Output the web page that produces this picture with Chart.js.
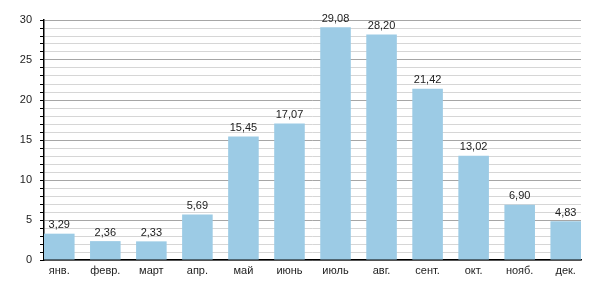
<!DOCTYPE html>
<html lang="ru">
  <head>
    <meta charset="UTF-8" />
    <title>Месячные значения</title>
    <script src="https://cdn.jsdelivr.net/npm/chart.js"></script>
    <style>
      html, body { margin: 0; padding: 0; background: #fff; }
      #wrap { width: 600px; height: 300px; }
    </style>
  </head>
  <body>
    <div id="wrap"><canvas id="chart" width="600" height="300"></canvas></div>

    <script>
      const months = ["янв.", "февр.", "март", "апр.", "май", "июнь", "июль", "авг.", "сент.", "окт.", "нояб.", "дек."];
      const values = [3.29, 2.36, 2.33, 5.69, 15.45, 17.07, 29.08, 28.2, 21.42, 13.02, 6.9, 4.83];
      const yMax = 30;

      const FONT = "'Liberation Sans', Arial, sans-serif";

      // value labels above each bar, comma decimal
      const valueLabels = {
        id: "valueLabels",
        afterDatasetsDraw(chart) {
          const ctx = chart.ctx;
          const meta = chart.getDatasetMeta(0);
          ctx.save();
          ctx.font = "11px " + FONT;
          ctx.fillStyle = "#222";
          ctx.textAlign = "center";
          ctx.textBaseline = "bottom";
          meta.data.forEach((bar, i) => {
            ctx.fillText(values[i].toFixed(2).replace(".", ","), bar.x, bar.y - 3);
          });
          ctx.restore();
        },
      };

      new Chart(document.getElementById("chart"), {
        type: "bar",
        data: {
          datasets: [
            {
              data: values.map((v, i) => ({ x: i, y: v })),
              backgroundColor: "#9ccbe5",
              borderWidth: 0,
              barPercentage: 0.664,
              categoryPercentage: 1,
            },
          ],
        },
        options: {
          responsive: false,
          animation: false,
          layout: { padding: { top: 20, right: 19, left: 0, bottom: 0 } },
          plugins: { legend: { display: false }, tooltip: { enabled: false } },
          scales: {
            x: {
              type: "linear",
              offset: false,
              min: -0.332,
              max: 11.332,
              afterBuildTicks(scale) {
                scale.ticks = months.map((m, i) => ({ value: i }));
              },
              afterFit(scale) { scale.height = 40; },
              grid: { display: false, drawTicks: false, offset: false },
              border: { display: true, color: "#000", width: 1.5 },
              ticks: {
                padding: 4,
                autoSkip: false,
                maxRotation: 0,
                color: "#222",
                font: { family: FONT, size: 11 },
                callback: (v) => months[v],
              },
            },
            y: {
              min: 0,
              max: yMax,
              afterBuildTicks(scale) {
                const t = [];
                for (let v = 0; v <= yMax; v++) t.push({ value: v });
                scale.ticks = t;
              },
              afterFit(scale) { scale.width = 44; },
              border: { display: true, color: "#000", width: 1.5 },
              grid: {
                color: (c) => (c.tick.value % 5 === 0 ? "#a6a6a6" : "#d6d6d6"),
                tickColor: "#000",
                tickLength: 4,
              },
              ticks: {
                padding: 8,
                autoSkip: false,
                color: "#222",
                font: { family: FONT, size: 11 },
                callback: (v) => (v % 5 === 0 ? v : ""),
              },
            },
          },
        },
        plugins: [valueLabels],
      });
    </script>
  </body>
</html>
